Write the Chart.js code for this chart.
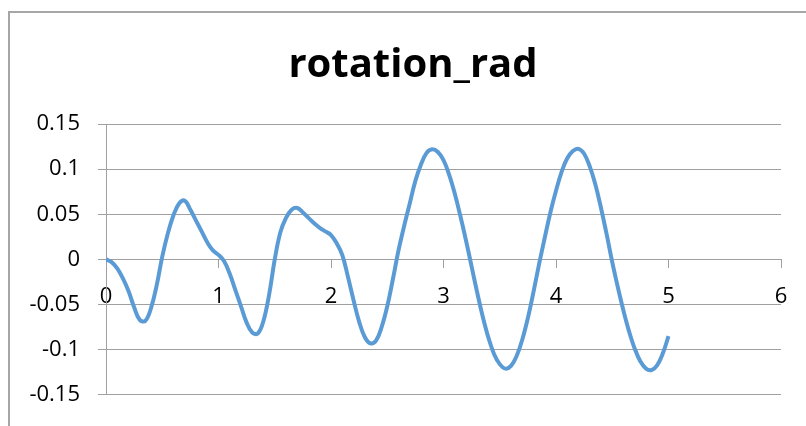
<!DOCTYPE html>
<html>
<head>
<meta charset="utf-8">
<script src="https://cdn.jsdelivr.net/npm/chart.js@4.4.1/dist/chart.umd.min.js"></script>
<style>
  html, body { margin: 0; padding: 0; background: #fff; }
  #wrap { position: relative; width: 806px; height: 426px; }
</style>
</head>
<body>
<div id="wrap"><canvas id="chart" width="806" height="426"></canvas></div>
<script>
const chartTitle = "rotation_rad";

// time (x) and rotation (rad)
const timeValues = [
    0.00, 0.05, 0.10, 0.15, 0.20, 0.25, 0.30, 0.35, 0.40, 0.45,
    0.50, 0.55, 0.60, 0.65, 0.70, 0.75, 0.80, 0.85, 0.90, 0.95,
    1.00, 1.05, 1.10, 1.15, 1.20, 1.25, 1.30, 1.35, 1.40, 1.45,
    1.50, 1.55, 1.60, 1.65, 1.70, 1.75, 1.80, 1.85, 1.90, 1.95,
    2.00, 2.05, 2.10, 2.15, 2.20, 2.25, 2.30, 2.35, 2.40, 2.45,
    2.50, 2.55, 2.60, 2.65, 2.70, 2.75, 2.80, 2.85, 2.90, 2.95,
    3.00, 3.05, 3.10, 3.15, 3.20, 3.25, 3.30, 3.35, 3.40, 3.45,
    3.50, 3.55, 3.60, 3.65, 3.70, 3.75, 3.80, 3.85, 3.90, 3.95,
    4.00, 4.05, 4.10, 4.15, 4.20, 4.25, 4.30, 4.35, 4.40, 4.45,
    4.50, 4.55, 4.60, 4.65, 4.70, 4.75, 4.80, 4.85, 4.90, 4.95,
    5.00
];
const rotationValues = [
    0, -0.003, -0.010, -0.021, -0.035, -0.053, -0.067, -0.068, -0.054, -0.029,
    0.003, 0.029, 0.049, 0.062, 0.065, 0.055, 0.043, 0.031, 0.019, 0.010,
    0.005, -0.002, -0.016, -0.034, -0.052, -0.070, -0.081, -0.082, -0.068, -0.039,
    0.000, 0.030, 0.046, 0.055, 0.057, 0.052, 0.046, 0.040, 0.035, 0.031,
    0.027, 0.018, 0.005, -0.019, -0.045, -0.069, -0.086, -0.093, -0.090, -0.075,
    -0.052, -0.022, 0.010, 0.037, 0.062, 0.087, 0.105, 0.118, 0.122, 0.119,
    0.110, 0.094, 0.073, 0.048, 0.021, -0.008, -0.037, -0.064, -0.087, -0.105,
    -0.116, -0.121, -0.118, -0.107, -0.089, -0.065, -0.036, -0.005, 0.024, 0.052,
    0.076, 0.097, 0.112, 0.120, 0.1225, 0.117, 0.103, 0.083, 0.057, 0.028,
    -0.003, -0.031, -0.057, -0.080, -0.099, -0.113, -0.121, -0.1225, -0.117, -0.104,
    -0.085
];
const xTicks = [0, 1, 2, 3, 4, 5, 6];
const yTicks = [-0.15, -0.1, -0.05, 0, 0.05, 0.1, 0.15];

const points = timeValues.map((t, i) => ({ x: t, y: rotationValues[i] }));

const axisGray = "#a0a0a0";
const labelFont = { family: "'Open Sans', 'Noto Sans', sans-serif", size: 22 };

// grey frame of the chart box (only left and top edges show) + the title,
// which is centred on the whole (wider) chart box, not on the picture
const frameAndTitle = {
    id: "frameAndTitle",
    beforeDraw(chart) {
        const ctx = chart.ctx;
        ctx.save();
        ctx.strokeStyle = "#a6a6a6";
        ctx.lineWidth = 2;
        ctx.beginPath();
        ctx.moveTo(9, 426);
        ctx.lineTo(9, 12);
        ctx.lineTo(806, 12);
        ctx.stroke();

        ctx.fillStyle = "#000";
        ctx.font = "bold 40px 'Open Sans', sans-serif";
        ctx.textAlign = "center";
        ctx.textBaseline = "alphabetic";
        ctx.fillText(chartTitle, 413, 77);
        ctx.restore();
    }
};

new Chart(document.getElementById("chart"), {
    type: "line",
    data: {
        datasets: [{
            data: points,
            borderColor: "#5b9bd5",
            borderWidth: 4,
            pointRadius: 0,
            tension: 0.4,
            fill: false
        }]
    },
    options: {
        responsive: false,
        animation: false,
        layout: { padding: { left: 0, right: 25, top: 124, bottom: 26 } },
        plugins: {
            legend: { display: false },
            tooltip: { enabled: false },
            title: { display: false }
        },
        scales: {
            x: {
                type: "linear",
                position: { y: 0 },
                min: 0,
                max: 6,
                afterBuildTicks: axis => { axis.ticks = xTicks.map(v => ({ value: v })); },
                afterFit: axis => { axis.height = 0; },
                grid: { drawOnChartArea: false, drawTicks: true, tickLength: 8, color: axisGray },
                border: { display: true, color: axisGray, width: 1 },
                ticks: { color: "#000", font: labelFont, padding: 16, maxRotation: 0 }
            },
            y: {
                type: "linear",
                min: -0.15,
                max: 0.15,
                afterBuildTicks: axis => { axis.ticks = yTicks.map(v => ({ value: v })); },
                afterFit: axis => { axis.width = 106; },
                grid: { color: axisGray, tickLength: 8, lineWidth: 1 },
                border: { display: true, color: axisGray, width: 1 },
                ticks: {
                    color: "#000",
                    font: labelFont,
                    padding: 18,
                    callback: v => String(Math.round(v * 100) / 100)
                }
            }
        }
    },
    plugins: [frameAndTitle]
});
</script>
</body>
</html>
